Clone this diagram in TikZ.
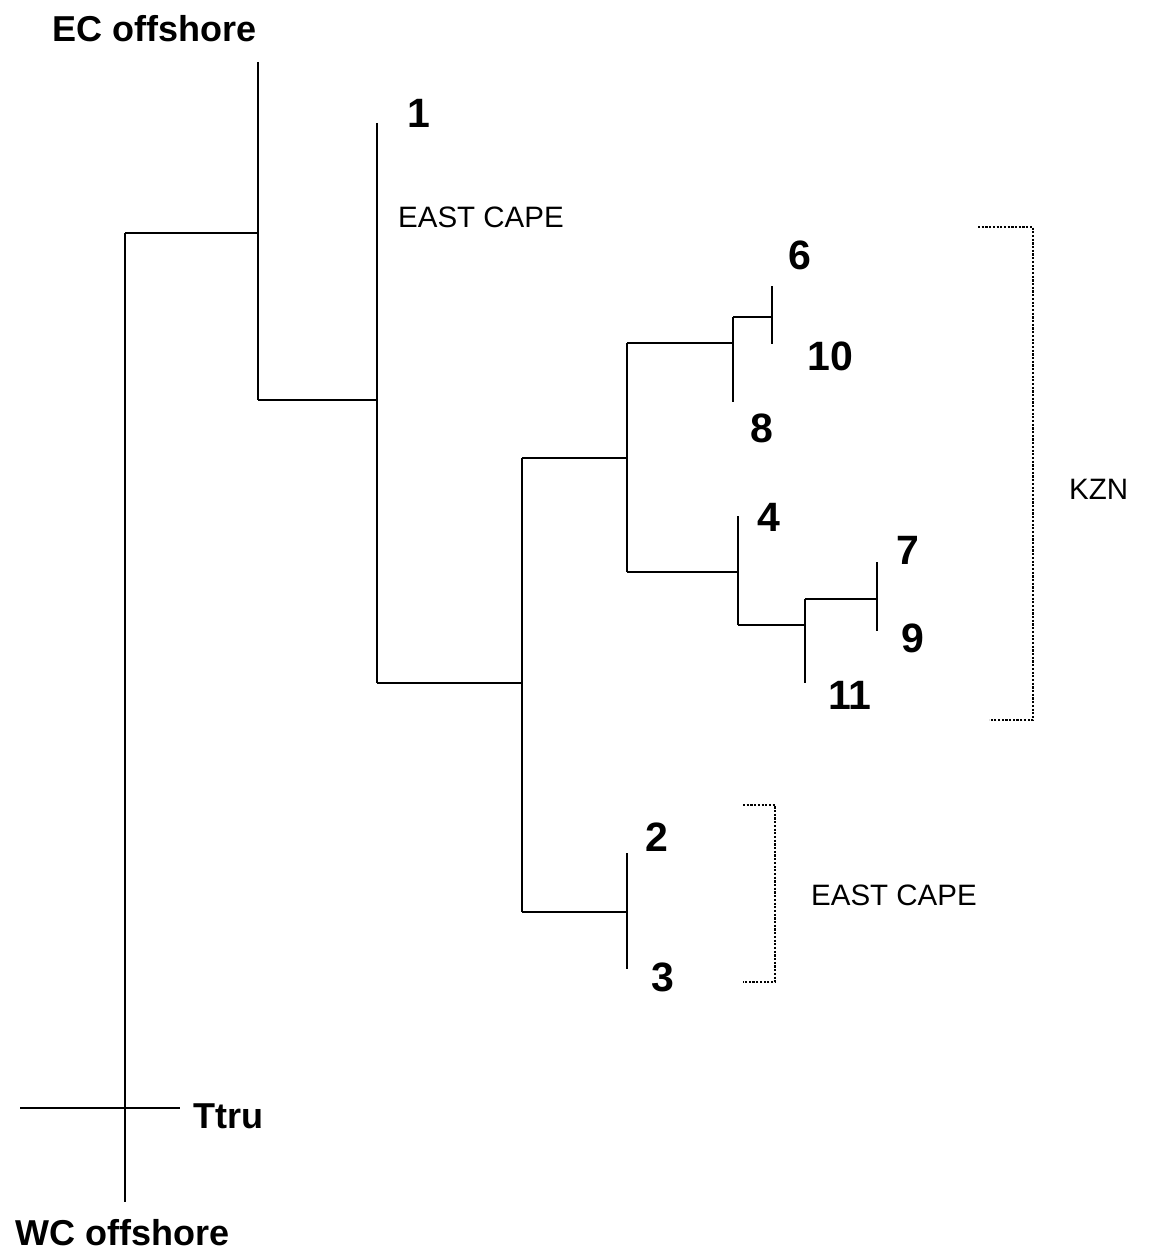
\documentclass[tikz,border=0pt]{standalone}
\usepackage{fontspec}
\setmainfont{Liberation Sans}
\begin{document}
\begin{tikzpicture}[x=1pt,y=-1pt,
  branch/.style={line width=1.7pt,black},
  bracket/.style={line width=2.2pt,black,dash pattern=on 2.2pt off 1.5pt},
  num/.style={font=\fontsize{41}{41}\selectfont\bfseries,inner sep=0pt},
  taxon/.style={font=\fontsize{36}{36}\selectfont\bfseries,inner sep=0pt,anchor=west},
  region/.style={font=\fontsize{29.5}{29.5}\selectfont,inner sep=0pt,anchor=west}]
\useasboundingbox (0,0) rectangle (1152,1252);
% coordinates of the tree
\coordinate (Rt) at (125,233);
\coordinate (Rb) at (125,1202);
\coordinate (Tl) at (20,1108);
\coordinate (Tr) at (180,1108);
\coordinate (At) at (258,62);
\coordinate (Am) at (258,233);
\coordinate (Ab) at (258,400);
\coordinate (Bt) at (377,123);
\coordinate (Bm) at (377,400);
\coordinate (Bb) at (377,683);
\coordinate (Ct) at (522,458);
\coordinate (Cm) at (522,683);
\coordinate (Cb) at (522,912);
\coordinate (Dt) at (627,343);
\coordinate (Dm) at (627,458);
\coordinate (Db) at (627,572);
\coordinate (Et) at (733,317);
\coordinate (Em) at (733,343);
\coordinate (Eb) at (733,402);
\coordinate (Ft) at (772,286);
\coordinate (Fm) at (772,317);
\coordinate (Fb) at (772,344);
\coordinate (Gt) at (738,516);
\coordinate (Gm) at (738,572);
\coordinate (Gb) at (738,625);
\coordinate (Ht) at (805,599);
\coordinate (Hm) at (805,625);
\coordinate (Hb) at (805,683);
\coordinate (It) at (877,562);
\coordinate (Im) at (877,599);
\coordinate (Ib) at (877,631);
\coordinate (Jt) at (627,853);
\coordinate (Jm) at (627,912);
\coordinate (Jb) at (627,969);
% branches
\draw[branch] (Rt) -- (Rb);
\draw[branch] (Tl) -- (Tr);
\draw[branch] (Rt) -- (Am);
\draw[branch] (At) -- (Ab);
\draw[branch] (Ab) -- (Bm);
\draw[branch] (Bt) -- (Bb);
\draw[branch] (Bb) -- (Cm);
\draw[branch] (Ct) -- (Cb);
\draw[branch] (Ct) -- (Dm);
\draw[branch] (Dt) -- (Db);
\draw[branch] (Dt) -- (Em);
\draw[branch] (Et) -- (Eb);
\draw[branch] (Et) -- (Fm);
\draw[branch] (Ft) -- (Fb);
\draw[branch] (Db) -- (Gm);
\draw[branch] (Gt) -- (Gb);
\draw[branch] (Gb) -- (Hm);
\draw[branch] (Ht) -- (Hb);
\draw[branch] (Ht) -- (Im);
\draw[branch] (It) -- (Ib);
\draw[branch] (Cb) -- (Jm);
\draw[branch] (Jt) -- (Jb);
% labels
\node[taxon] (ec) at (52,29) {EC offshore};
\node[taxon] (wc) at (15,1233) {WC offshore};
\node[taxon] (ttru) at (193,1116) {Ttru};
\node[num] (n1) at (419,113) {1};
\node[num] (n6) at (800,255) {6};
\node[num] (n10) at (830,356) {10};
\node[num] (n8) at (762,428) {8};
\node[num] (n4) at (769,517) {4};
\node[num] (n7) at (908,550) {7};
\node[num] (n9) at (913,638) {9};
\node[num] (n11) at (850,695) {11};
\node[num] (n2) at (657,837) {2};
\node[num] (n3) at (663,977) {3};
\node[region] (ec1) at (398,217) {EAST CAPE};
\node[region] (ec2) at (811,895) {EAST CAPE};
\node[region] (kzn) at (1069,489) {KZN};
% dotted brackets
\coordinate (K1) at (978,227);
\coordinate (K2) at (1033,227);
\coordinate (K3) at (1033,720);
\coordinate (K4) at (989,720);
\draw[bracket] (K1) -- (K2) -- (K3) -- (K4);
\coordinate (E1) at (743,805);
\coordinate (E2) at (775,805);
\coordinate (E3) at (775,982);
\coordinate (E4) at (743,982);
\draw[bracket] (E1) -- (E2) -- (E3) -- (E4);
\end{tikzpicture}
\end{document}
